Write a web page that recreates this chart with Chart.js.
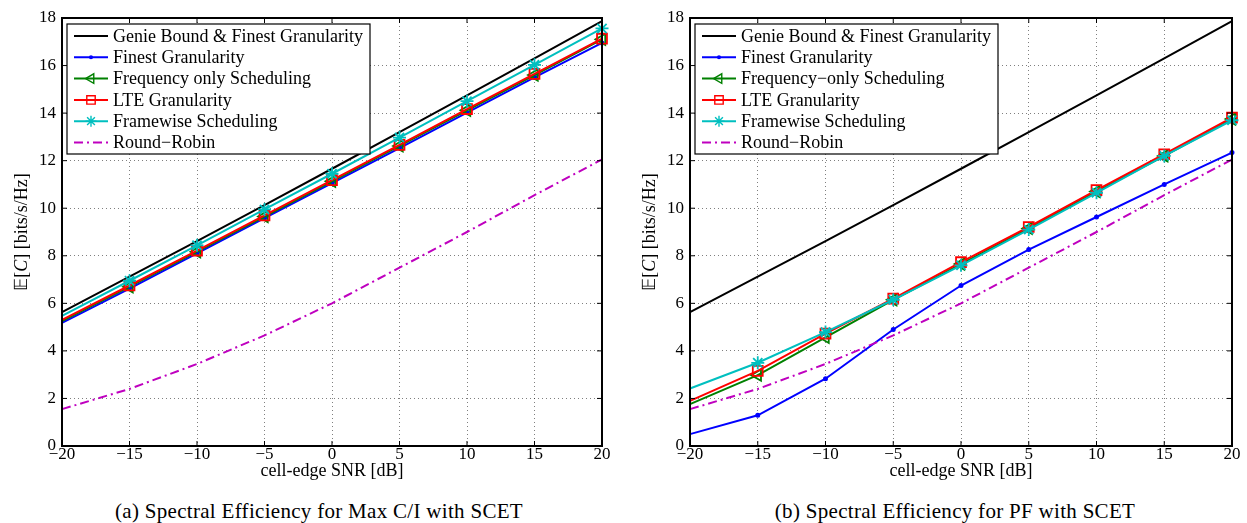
<!DOCTYPE html>
<html>
<head>
<meta charset="utf-8">
<script src="https://cdn.jsdelivr.net/npm/chart.js@4.4.1/dist/chart.umd.min.js"></script>
<style>
    body { margin: 0; background: #fff; width: 1247px; height: 523px; overflow: hidden; position: relative; font-family: "Liberation Serif", serif; }
    .panel { position: absolute; top: 0; width: 620px; height: 482px; }
    .caption { position: absolute; top: 499px; width: 620px; text-align: center; font-size: 21px; line-height: 24px; letter-spacing: 0.3px; }
</style>
</head>
<body>
<div class="panel" style="left:0"><canvas id="chartMaxCI"></canvas></div>
<div class="panel" style="left:628px"><canvas id="chartPF"></canvas></div>
<div class="caption" style="left:9px">(a) Spectral Efficiency for Max C/I with SCET</div>
<div class="caption" style="left:645px">(b) Spectral Efficiency for PF with SCET</div>

<script>
// asse x: SNR del bordo cella [dB]
const snr = [-20, -15, -10, -5, 0, 5, 10, 15, 20];

// curve comuni ai due grafici
const genieBound = [5.63, 7.12, 8.62, 10.13, 11.66, 13.2, 14.75, 16.3, 17.87];
const roundRobin = [1.55, 2.4, 3.45, 4.65, 6.0, 7.5, 9.0, 10.55, 12.05];

// (a) Max C/I
const maxCIFinest = [5.18, 6.62, 8.1, 9.58, 11.06, 12.53, 14.02, 15.5, 16.95];
const maxCIFreq = [5.25, 6.7, 8.17, 9.65, 11.13, 12.62, 14.12, 15.6, 17.1];
const maxCILte = [5.3, 6.75, 8.22, 9.7, 11.18, 12.66, 14.17, 15.65, 17.13];
const maxCIFrame = [5.47, 6.95, 8.44, 9.95, 11.45, 12.97, 14.5, 16.03, 17.56];

// (b) PF
const pfFinest = [0.5, 1.29, 2.83, 4.9, 6.75, 8.26, 9.63, 11.0, 12.34];
const pfFreq = [1.76, 2.98, 4.57, 6.15, 7.65, 9.15, 10.7, 12.2, 13.75];
const pfLte = [1.9, 3.16, 4.73, 6.2, 7.73, 9.21, 10.76, 12.27, 13.81];
const pfFrame = [2.42, 3.5, 4.79, 6.15, 7.6, 9.1, 10.65, 12.2, 13.7];

const labelsMaxCI = ['Genie Bound & Finest Granularity', 'Finest Granularity', 'Frequency only Scheduling',
    'LTE Granularity', 'Framewise Scheduling', 'Round\u2212Robin'];
const labelsPF = ['Genie Bound & Finest Granularity', 'Finest Granularity', 'Frequency\u2212only Scheduling',
    'LTE Granularity', 'Framewise Scheduling', 'Round\u2212Robin'];

const FONT = '"Liberation Serif", "Times New Roman", serif';

// riquadro nero attorno all'area del grafico + tacche verso l'interno (stile MATLAB)
const framePlugin = {
    id: 'frame',
    afterDatasetsDraw(chart) {
        const { ctx, chartArea: a, scales: { x, y } } = chart;
        ctx.save();
        ctx.strokeStyle = '#000';
        ctx.lineWidth = 1;
        ctx.beginPath();
        x.ticks.forEach(t => {
            const px = x.getPixelForValue(t.value);
            ctx.moveTo(px, a.bottom); ctx.lineTo(px, a.bottom - 5);
            ctx.moveTo(px, a.top); ctx.lineTo(px, a.top + 5);
        });
        y.ticks.forEach(t => {
            const py = y.getPixelForValue(t.value);
            ctx.moveTo(a.left, py); ctx.lineTo(a.left + 5, py);
            ctx.moveTo(a.right, py); ctx.lineTo(a.right - 5, py);
        });
        ctx.stroke();
        ctx.lineWidth = 2;
        ctx.strokeRect(a.left, a.top, a.right - a.left, a.bottom - a.top);
        ctx.restore();
    }
};

// titolo asse y con la C in corsivo: E[C] [bits/s/Hz]
const yTitlePlugin = {
    id: 'yTitle',
    afterDraw(chart) {
        const { ctx, chartArea: a } = chart;
        const parts = [
            { t: '\uD835\uDD3C[', f: '18px ' + FONT },
            { t: 'C', f: 'italic 18px ' + FONT },
            { t: '] [bits/s/Hz]', f: '18px ' + FONT }
        ];
        ctx.save();
        let total = 0;
        parts.forEach(p => { ctx.font = p.f; p.w = ctx.measureText(p.t).width; total += p.w; });
        ctx.translate(22, (a.top + a.bottom) / 2);
        ctx.rotate(-Math.PI / 2);
        ctx.fillStyle = '#000';
        ctx.textBaseline = 'middle';
        let x = -total / 2;
        parts.forEach(p => { ctx.font = p.f; ctx.fillText(p.t, x, 0); x += p.w; });
        ctx.restore();
    }
};

// legenda dentro l'area del grafico, in alto a sinistra
const boxLegendPlugin = {
    id: 'boxLegend',
    afterDraw(chart) {
        const { ctx, chartArea: a } = chart;
        const left = a.left + 5, top = a.top + 6, w = 303, h = 130;
        ctx.save();
        ctx.fillStyle = '#fff';
        ctx.fillRect(left, top, w, h);
        ctx.strokeStyle = '#000';
        ctx.lineWidth = 1.2;
        ctx.strokeRect(left, top, w, h);
        chart.data.datasets.forEach((ds, i) => {
            const cy = top + 12 + i * 21.3;
            const x0 = left + 7, x1 = left + 41;
            ctx.strokeStyle = ds.borderColor;
            ctx.lineWidth = ds.borderWidth;
            ctx.setLineDash(ds.borderDash || []);
            ctx.beginPath();
            ctx.moveTo(x0, cy);
            ctx.lineTo(x1, cy);
            ctx.stroke();
            ctx.setLineDash([]);
            if (ds.markerSize > 0) {
                ctx.fillStyle = ds.pointBackgroundColor;
                ctx.lineWidth = 1.4;
                Chart.helpers.drawPoint(ctx, {
                    pointStyle: ds.pointStyle, rotation: ds.pointRotation || 0,
                    radius: ds.markerSize * 0.85, borderWidth: 1.4
                }, (x0 + x1) / 2, cy);
            }
            ctx.fillStyle = '#000';
            ctx.font = '18px ' + FONT;
            ctx.textBaseline = 'middle';
            ctx.fillText(ds.label, left + 46, cy + 1);
        });
        ctx.restore();
    }
};

function buildDatasets(labels, finest, freq, lte, frame) {
    const list = [
        { label: labels[0], data: genieBound, borderColor: '#000000', markerSize: 0 },
        { label: labels[1], data: finest, borderColor: '#0000ff', pointStyle: 'circle', markerSize: 1.6,
            pointBackgroundColor: '#0000ff' },
        { label: labels[2], data: freq, borderColor: '#008000', pointStyle: 'triangle', pointRotation: -90,
            markerSize: 6.5, pointBackgroundColor: 'rgba(0,0,0,0)' },
        { label: labels[3], data: lte, borderColor: '#ff0000', pointStyle: 'rect', markerSize: 7,
            pointBackgroundColor: 'rgba(0,0,0,0)' },
        { label: labels[4], data: frame, borderColor: '#00bfbf', pointStyle: 'star', markerSize: 6.5,
            pointBackgroundColor: 'rgba(0,0,0,0)' },
        { label: labels[5], data: roundRobin, borderColor: '#bf00bf', borderDash: [9, 4, 2, 4], markerSize: 0 }
    ];
    return list.map((ds, i) => Object.assign({
        borderWidth: 2,
        pointBorderColor: ds.borderColor,
        pointBorderWidth: 1.8,
        // nessun marker al primo punto (-20 dB), come nel grafico originale
        pointRadius: snr.map((s, k) => (k === 0 ? 0 : ds.markerSize)),
        tension: 0,
        clip: false,
        order: 10 - i   // come in MATLAB: l'ultima curva sta sopra
    }, ds, { data: ds.data.map((v, k) => ({ x: snr[k], y: v })) }));
}

function makeChart(id, datasets, padRight) {
    const canvas = document.getElementById(id);
    canvas.width = 620;
    canvas.height = 482;
    return new Chart(canvas.getContext('2d'), {
        type: 'line',
        data: { datasets: datasets },
        options: {
            responsive: false,
            animation: false,
            events: [],
            layout: { padding: { top: 18, right: padRight, bottom: 0, left: 0 } },
            plugins: { legend: { display: false }, tooltip: { enabled: false } },
            scales: {
                x: {
                    type: 'linear', min: -20, max: 20,
                    afterFit: s => { s.height = 36; },
                    ticks: {
                        stepSize: 5, padding: -2, color: '#000', maxRotation: 0,
                        font: { family: FONT, size: 17 },
                        callback: v => String(v).replace('-', '\u2212')
                    },
                    grid: { color: 'rgba(0,0,0,0.5)', lineWidth: 1, drawTicks: false },
                    border: { display: false, dash: [1, 3] },
                    title: {
                        display: true, text: 'cell-edge SNR [dB]', color: '#000',
                        font: { family: FONT, size: 18 }, padding: { top: 0, bottom: 0 }
                    }
                },
                y: {
                    min: 0, max: 18,
                    afterFit: s => { s.width = 62; },
                    ticks: {
                        stepSize: 2, padding: 6, color: '#000',
                        font: { family: FONT, size: 17 }
                    },
                    grid: { color: 'rgba(0,0,0,0.5)', lineWidth: 1, drawTicks: false },
                    border: { display: false, dash: [1, 3] },
                    title: { display: false }
                }
            }
        },
        plugins: [framePlugin, yTitlePlugin, boxLegendPlugin]
    });
}

makeChart('chartMaxCI', buildDatasets(labelsMaxCI, maxCIFinest, maxCIFreq, maxCILte, maxCIFrame), 18);
makeChart('chartPF', buildDatasets(labelsPF, pfFinest, pfFreq, pfLte, pfFrame), 16);
</script>
</body>
</html>
